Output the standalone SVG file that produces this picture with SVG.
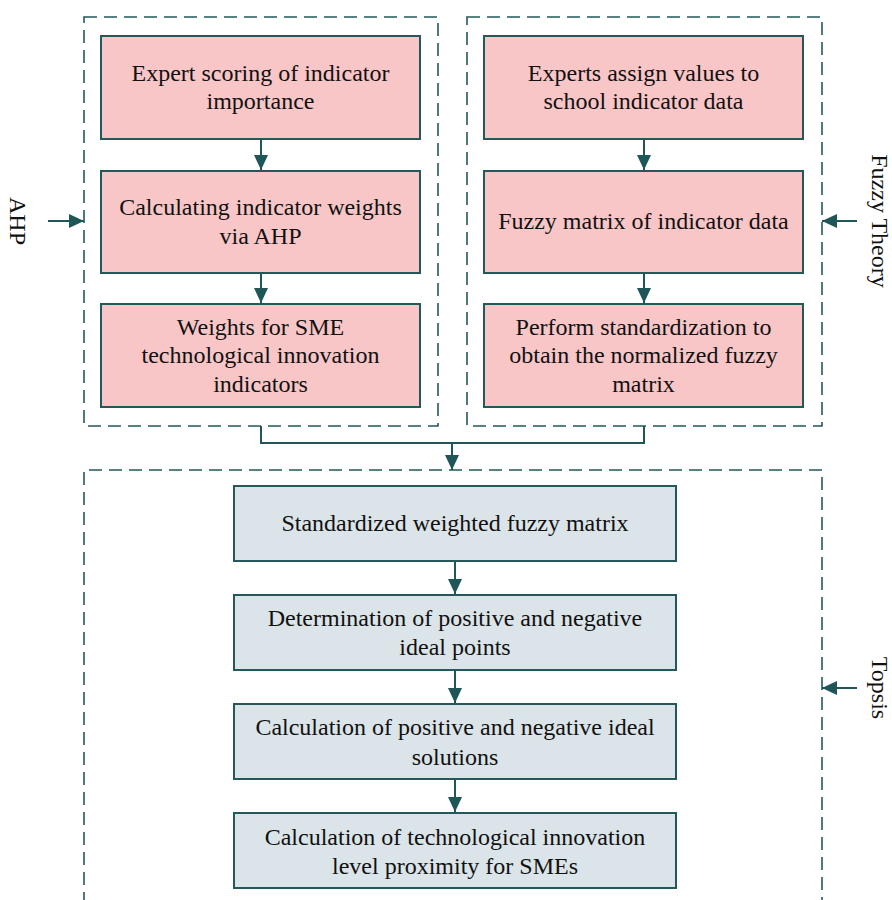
<svg xmlns="http://www.w3.org/2000/svg" width="892" height="900" viewBox="0 0 892 900">
<style>
.bg{fill:#ffffff}
.dash{fill:none;stroke:#24585a;stroke-width:1.6;stroke-dasharray:13 7}
.pink{fill:#f8c6c7;stroke:#24585a;stroke-width:2}
.blue{fill:#dbe4e8;stroke:#24585a;stroke-width:2}
.t{font-family:"Liberation Serif","Times New Roman",serif;font-size:24px;fill:#111;text-anchor:middle}
.c{fill:none;stroke:#1f5658;stroke-width:2}
</style>
<defs>
<marker id="ah" markerUnits="userSpaceOnUse" markerWidth="16" markerHeight="16" viewBox="0 0 16 16" refX="15" refY="8" orient="auto">
<path d="M0,1 L15,8 L0,15 Z" fill="#1f5658"/>
</marker>
</defs>
<rect class="bg" x="0" y="0" width="892" height="900"/>

<g id="groups">
<rect id="ahp-group" class="dash" x="84" y="17" width="354" height="409"/>
<rect id="fuzzy-group" class="dash" x="467" y="17" width="355" height="409"/>
<path id="topsis-group" class="dash" d="M84,905 L84,470 L822,470 L822,905"/>
</g>

<g id="n1"><rect class="pink" x="101" y="36" width="319" height="103"/>
<text class="t" x="260.5" y="81">Expert scoring of indicator</text>
<text class="t" x="260.5" y="109">importance</text></g>
<g id="n2"><rect class="pink" x="101" y="171" width="319" height="102"/>
<text class="t" x="260.5" y="215">Calculating indicator weights</text>
<text class="t" x="260.5" y="244">via AHP</text></g>
<g id="n3"><rect class="pink" x="101" y="304" width="319" height="103"/>
<text class="t" x="260.5" y="335">Weights for SME</text>
<text class="t" x="260.5" y="363">technological innovation</text>
<text class="t" x="260.5" y="392">indicators</text></g>

<g id="n4"><rect class="pink" x="484" y="36" width="319" height="103"/>
<text class="t" x="643.5" y="81">Experts assign values to</text>
<text class="t" x="643.5" y="109">school indicator data</text></g>
<g id="n5"><rect class="pink" x="484" y="171" width="319" height="102"/>
<text class="t" x="643.5" y="229">Fuzzy matrix of indicator data</text></g>
<g id="n6"><rect class="pink" x="484" y="304" width="319" height="103"/>
<text class="t" x="643.5" y="335">Perform standardization to</text>
<text class="t" x="643.5" y="363">obtain the normalized fuzzy</text>
<text class="t" x="643.5" y="392">matrix</text></g>

<g id="n7"><rect class="blue" x="234" y="486" width="442" height="75"/>
<text class="t" x="455" y="531">Standardized weighted fuzzy matrix</text></g>
<g id="n8"><rect class="blue" x="234" y="595" width="442" height="75"/>
<text class="t" x="455" y="626">Determination of positive and negative</text>
<text class="t" x="455" y="655">ideal points</text></g>
<g id="n9"><rect class="blue" x="234" y="704" width="442" height="75"/>
<text class="t" x="455" y="735">Calculation of positive and negative ideal</text>
<text class="t" x="455" y="765">solutions</text></g>
<g id="n10"><rect class="blue" x="234" y="813" width="442" height="75"/>
<text class="t" x="455" y="845">Calculation of technological innovation</text>
<text class="t" x="455" y="874">level proximity for SMEs</text></g>

<g id="labels">
<text class="t" transform="translate(18,221) rotate(90)" x="0" y="8">AHP</text>
<text class="t" transform="translate(880,221) rotate(90)" x="0" y="8">Fuzzy Theory</text>
<text class="t" transform="translate(880,688) rotate(90)" x="0" y="8">Topsis</text>
</g>

<g id="connectors">
<line class="c" x1="261" y1="139" x2="261" y2="170" marker-end="url(#ah)"/>
<line class="c" x1="261" y1="273" x2="261" y2="303" marker-end="url(#ah)"/>
<line class="c" x1="644" y1="139" x2="644" y2="170" marker-end="url(#ah)"/>
<line class="c" x1="644" y1="273" x2="644" y2="303" marker-end="url(#ah)"/>
<path class="c" d="M261,426 L261,443 L644,443 L644,426"/>
<line class="c" x1="452" y1="443" x2="452" y2="470" marker-end="url(#ah)"/>
<line class="c" x1="455" y1="561" x2="455" y2="594" marker-end="url(#ah)"/>
<line class="c" x1="455" y1="670" x2="455" y2="703" marker-end="url(#ah)"/>
<line class="c" x1="455" y1="779" x2="455" y2="812" marker-end="url(#ah)"/>
<line class="c" x1="48" y1="221" x2="84" y2="221" marker-end="url(#ah)"/>
<line class="c" x1="857" y1="221" x2="822" y2="221" marker-end="url(#ah)"/>
<line class="c" x1="857" y1="688" x2="822" y2="688" marker-end="url(#ah)"/>
</g>
</svg>
